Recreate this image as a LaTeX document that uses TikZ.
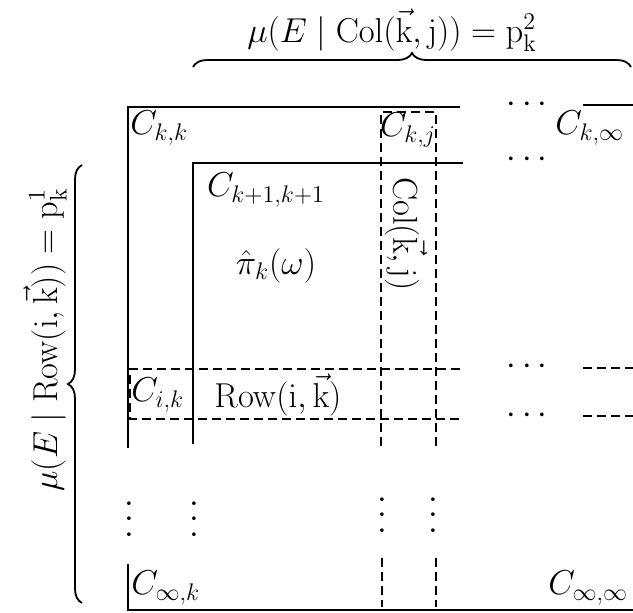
\documentclass[tikz,border=0pt]{standalone}
\usepackage{amsmath,amssymb}
\usetikzlibrary{decorations.pathreplacing}

\begin{document}
\begin{tikzpicture}[x=0.5pt, y=-0.5pt,
  every node/.style={font=\fontsize{16.8}{20}\selectfont, inner sep=1pt},
  rule/.style={line width=1.15pt},
  cut/.style={line width=1pt, dash pattern=on 4.5pt off 2.5pt},
  vdts/.style={rotate=90},
  brc/.style={decorate, decoration={brace, amplitude=7pt}, line width=0.9pt}]
  \useasboundingbox (0,0) rectangle (633,612);
  \clip (0,0) rectangle (633,612);
  % nested blocks
  \draw[rule] (460,107) -- (128,107) -- (128,448);
  \draw[rule] (583,105) -- (640,105);
  \draw[rule] (463,163) -- (193,163) -- (193,444);
  \draw[rule] (128,564) -- (128,610) -- (640,610);
  % column Col(k,j)
  \draw[cut] (381,446) -- (381,112) -- (436,112) -- (436,446);
  \draw[cut] (382,558) -- (382,607);
  \draw[cut] (436,558) -- (436,607);
  % row Row(i,k)
  \draw[cut] (460,369) -- (130,369) -- (130,419) -- (460,419);
  \draw[cut] (583,368) -- (640,368);
  \draw[cut] (583,416) -- (640,416);
  % labels
  \node[anchor=west] (ckk) at (128,128) {$C_{k,k}$};
  \node (ckj) at (408,130) {$C_{k,j}$};
  \node[anchor=west] (ckinf) at (553,128) {$C_{k,\infty}$};
  \node (cnext) at (266,190) {$C_{k+1,k+1}$};
  \node (pihat) at (276,266) {$\hat{\pi}_k(\omega)$};
  \node[rotate=-90] (colkj) at (406,234) {$\mathrm{Col}(\vec{\mathrm{k}},\mathrm{j})$};
  \node[anchor=west] (cik) at (129,395) {$C_{i,k}$};
  \node (rowik) at (278,395) {$\mathrm{Row}(\mathrm{i},\vec{\mathrm{k}})$};
  \node[anchor=west] (cinfk) at (129,588) {$C_{\infty,k}$};
  \node[anchor=west] (cinfinf) at (546,588) {$C_{\infty,\infty}$};
  % dots
  \node (hd1) at (530,105) {$\cdots$};
  \node (hd2) at (530,160) {$\cdots$};
  \node (hd3) at (530,367) {$\cdots$};
  \node (hd4) at (530,416) {$\cdots$};
  \node[vdts] (vd1) at (130,516) {$\cdots$};
  \node[vdts] (vd2) at (195,516) {$\cdots$};
  \node[vdts] (vd3) at (383,512) {$\cdots$};
  \node[vdts] (vd4) at (434,512) {$\cdots$};
  % braces
  \draw[brc] (193,67) -- (631,67);
  \draw[brc] (82,603) -- (82,165);
  \node (toplab) at (392,30) {$\mu(E\mid\mathrm{Col}(\vec{\mathrm{k}},\mathrm{j}))=\mathrm{p}_{\mathrm{k}}^{2}$};
  \node[rotate=90] (leftlab) at (45,340) {$\mu(E\mid\mathrm{Row}(\mathrm{i},\vec{\mathrm{k}}))=\mathrm{p}_{\mathrm{k}}^{1}$};
\end{tikzpicture}
\end{document}
